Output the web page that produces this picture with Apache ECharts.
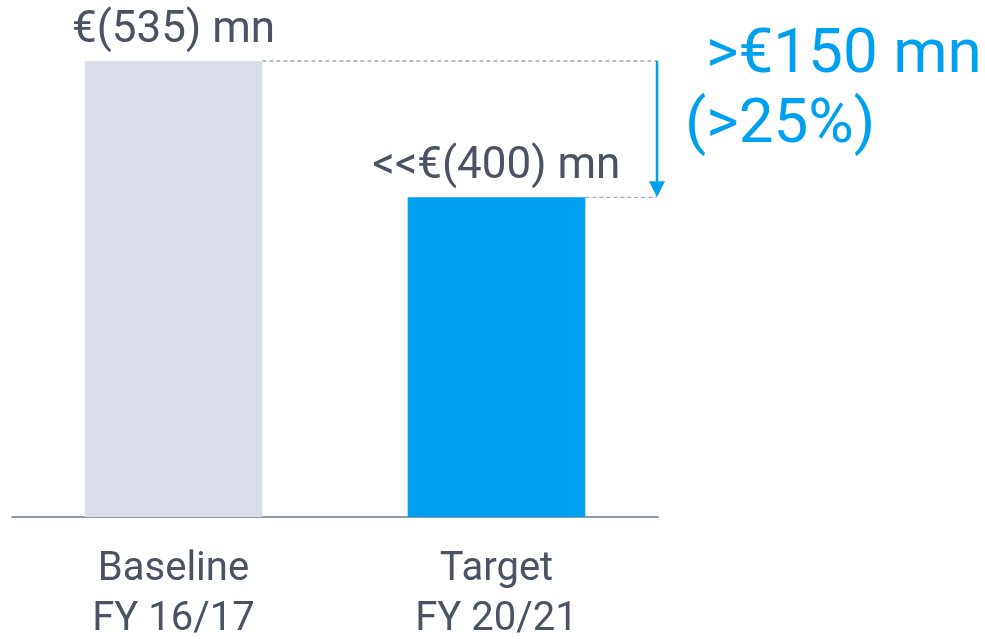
<!DOCTYPE html>
<html lang="en">
<head>
<meta charset="UTF-8">
<title>Baseline vs Target</title>
<style>
  html, body { margin: 0; padding: 0; background: #fff; }
  #chart { width: 985px; height: 639px; }
</style>
</head>
<body>
<div id="chart"></div>
<script src="https://cdn.jsdelivr.net/npm/echarts@6/dist/echarts.min.js"></script>
<script>
  var categories = ['Baseline\nFY 16/17', 'Target\nFY 20/21'];
  var values = [535, 375];
  var valueLabels = ['€(535) mn', '<<€(400) mn'];
  var barColors = ['#dadee8', '#00a0f0'];
  var deltaLines = ['>€150 mn', '(>25%)'];

  var textColor = '#4a5263';
  var blue = '#00a0f0';
  var font = 'Roboto, "Noto Sans", sans-serif';

  var chart = echarts.init(document.getElementById('chart'), null, { renderer: 'canvas' });

  var option = {
    animation: false,
    grid: { left: 12, right: 327, top: 61, bottom: 122, containLabel: false, outerBoundsMode: 'none' },
    xAxis: {
      type: 'category',
      data: categories,
      axisLine: { show: true, lineStyle: { color: '#8e99ad', width: 2 } },
      axisTick: { show: false },
      axisLabel: {
        color: textColor, fontFamily: font, fontSize: 40,
        lineHeight: 50, margin: 28
      }
    },
    yAxis: {
      type: 'value', min: 0, max: 535,
      show: false, splitLine: { show: false }
    },
    series: [{
      type: 'bar',
      barWidth: '55%',
      data: values.map(function (v, i) {
        return { value: v, itemStyle: { color: barColors[i] } };
      }),
      label: {
        show: true, position: 'top', distance: 8,
        color: textColor, fontFamily: font, fontSize: 44,
        formatter: function (p) { return valueLabels[p.dataIndex]; }
      }
    }]
  };
  chart.setOption(option);

  // annotation built from the axis scales
  var yTop = chart.convertToPixel({ yAxisIndex: 0 }, values[0]);
  var yLow = chart.convertToPixel({ yAxisIndex: 0 }, values[1]);
  var c0 = chart.convertToPixel({ xAxisIndex: 0 }, categories[0]);
  var c1 = chart.convertToPixel({ xAxisIndex: 0 }, categories[1]);
  var band = c1 - c0;
  var halfBar = band * 0.55 / 2;
  var xArrow = 985 - 327 - 1;
  var dash = { stroke: '#a3aab8', lineWidth: 1.3, lineDash: [4, 3] };

  chart.setOption({
    graphic: [
      { type: 'line', shape: { x1: c0 + halfBar, y1: yTop, x2: xArrow, y2: yTop }, style: dash },
      { type: 'line', shape: { x1: c1 + halfBar, y1: yLow, x2: xArrow, y2: yLow }, style: dash },
      { type: 'line', shape: { x1: xArrow, y1: yTop, x2: xArrow, y2: yLow - 14 },
        style: { stroke: blue, lineWidth: 2.5 } },
      { type: 'polygon', shape: { points: [[xArrow - 8, yLow - 16], [xArrow + 8, yLow - 16], [xArrow, yLow]] },
        style: { fill: blue } },
      { type: 'text', left: 706, top: 25,
        style: { text: deltaLines[0], fill: blue, font: '62px ' + font } },
      { type: 'text', left: 685, top: 95,
        style: { text: deltaLines[1], fill: blue, font: '62px ' + font } }
    ]
  });
</script>
</body>
</html>
